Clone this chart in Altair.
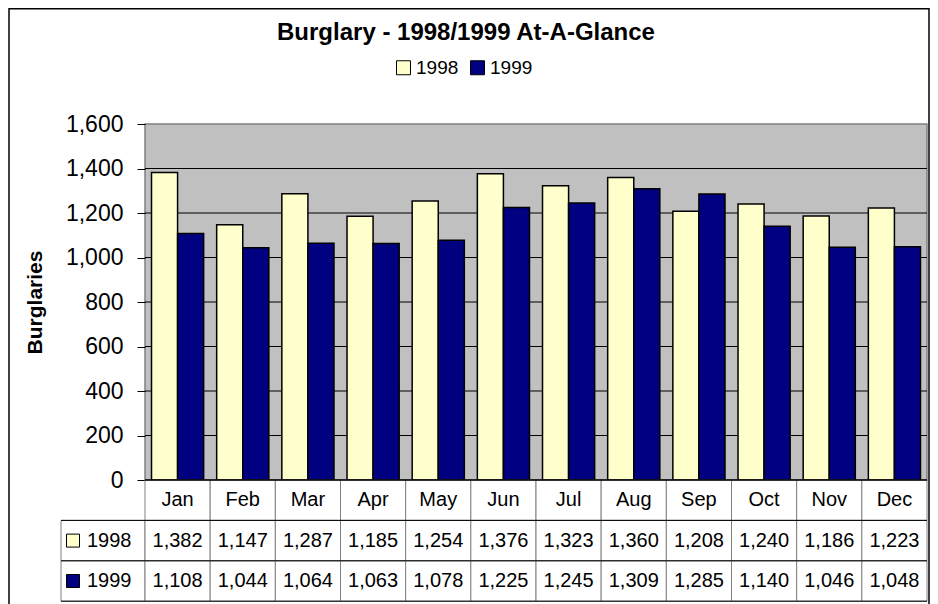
import altair as alt
import pandas as pd

# ---------------- data ----------------
months = ["Jan", "Feb", "Mar", "Apr", "May", "Jun", "Jul", "Aug", "Sep", "Oct", "Nov", "Dec"]
series = ["1998", "1999"]
values_1998 = [1382, 1147, 1287, 1185, 1254, 1376, 1323, 1360, 1208, 1240, 1186, 1223]
values_1999 = [1108, 1044, 1064, 1063, 1078, 1225, 1245, 1309, 1285, 1140, 1046, 1048]
y_ticks = [0, 200, 400, 600, 800, 1000, 1200, 1400, 1600]
title_text = "Burglary - 1998/1999 At-A-Glance"
y_title = "Burglaries"
colors = ["#FFFFCC", "#000080"]

FONT = "Liberation Sans"
W, H = 782, 356
SLOT = W / len(months)
KEY = -84 / SLOT                 # left edge of the data table's key column
XDOM = [0, len(months)]
YDOM = [0, 1600]
UPX = (YDOM[1] - YDOM[0]) / H    # y units per pixel
ROW_H = 40.4 * UPX               # data-table row height in y units

# ---------------- tables ----------------
bar_rows = []
for s_i, (s, vals) in enumerate(zip(series, [values_1998, values_1999])):
    for i, (m, v) in enumerate(zip(months, vals)):
        bar_rows.append({"month": m, "idx": i, "year": s, "value": v, "off": s_i})
bars_df = pd.DataFrame(bar_rows)

grid_df = pd.DataFrame({"v": y_ticks[1:-1], "x0": 0, "x1": len(months)})
base_df = pd.DataFrame({"v": [0], "x0": [0], "x1": [len(months)]})

row_top = {"Month": 0.0, series[0]: -ROW_H, series[1]: -2 * ROW_H}
cells = []
for i, m in enumerate(months):
    cells.append({"row": "Month", "x0": i, "x1": i + 1, "label": m})
for s, vals in zip(series, [values_1998, values_1999]):
    cells.append({"row": s, "x0": KEY, "x1": 0, "label": ""})
    for i, v in enumerate(vals):
        cells.append({"row": s, "x0": i, "x1": i + 1, "label": f"{v:,}"})
cells_df = pd.DataFrame(cells)
cells_df["y0"] = cells_df["row"].map(row_top)
cells_df["y1"] = cells_df["y0"] - ROW_H
cells_df["xc"] = (cells_df["x0"] + cells_df["x1"]) / 2
cells_df["yc"] = (cells_df["y0"] + cells_df["y1"]) / 2
text_df = cells_df[cells_df["label"] != ""]

key_df = pd.DataFrame({"year": series, "x0": [KEY] * 2, "x1": [len(months)] * 2})
key_df["y0"] = key_df["year"].map(row_top)
key_df["yc"] = key_df["y0"] - ROW_H / 2
key_df["xk"] = KEY + 12 / SLOT
bottom_df = pd.DataFrame({"x0": [KEY], "x1": [len(months)], "y": [row_top[series[-1]] - ROW_H]})

one = pd.DataFrame({"a": [0]})

xs = alt.Scale(domain=XDOM, nice=False, zero=False)
ys = alt.Scale(domain=YDOM, nice=False)
cs = alt.Scale(domain=series, range=colors)

yaxis = alt.Axis(values=y_ticks, format=",.0f", title=y_title, grid=False,
                 domain=False, tickColor="black", tickSize=8, tickWidth=1,
                 labelFont=FONT, labelFontSize=23, labelColor="black",
                 labelPadding=14, titleFont=FONT, titleFontSize=21,
                 titleFontWeight="bold", titleColor="black", titlePadding=20)


def X(field):
    return alt.X(field, scale=xs, axis=None)


def Y(field):
    return alt.Y(field, scale=ys, axis=yaxis)


# ---------------- bar panel ----------------
grid = alt.Chart(grid_df).mark_rule(color="black", strokeWidth=1).encode(
    x=X("x0:Q"), x2="x1:Q", y=Y("v:Q"))

bars = alt.Chart(bars_df).transform_calculate(
    bx0="datum.idx + 0.1 + 0.4 * datum.off",
    bx1="datum.idx + 0.5 + 0.4 * datum.off",
).mark_rect(stroke="black", strokeWidth=1.5).encode(
    x=X("bx0:Q"), x2="bx1:Q",
    y=Y("value:Q"), y2=alt.datum(0),
    color=alt.Color("year:N", scale=cs,
                    legend=alt.Legend(title=None, orient="none", legendX=249, legendY=-66,
                                      direction="horizontal", symbolType="square",
                                      symbolSize=196, symbolStrokeColor="black",
                                      symbolStrokeWidth=1, labelFont=FONT,
                                      labelFontSize=19, labelColor="black",
                                      labelOffset=3, columnPadding=9)),
)

title = alt.Chart(one).mark_text(text=title_text, font=FONT, fontSize=24,
                                 fontWeight="bold", color="black",
                                 baseline="middle", align="center").encode(
    x=alt.value(321), y=alt.value(-91))

frame_l = alt.Chart(one).mark_rule(color="black", strokeWidth=1.5).encode(
    x=alt.value(-136), y=alt.value(-116), y2=alt.value(480))
frame_t = alt.Chart(one).mark_rule(color="black", strokeWidth=1.5).encode(
    x=alt.value(-136), x2=alt.value(784), y=alt.value(-115.3))
frame_r = alt.Chart(one).mark_rule(color="black", strokeWidth=1.5).encode(
    x=alt.value(784), y=alt.value(-116), y2=alt.value(480))

# ---------------- data table ----------------
cell_rects = alt.Chart(cells_df).mark_rect(fill="white", stroke="#808080", strokeWidth=1).encode(
    x=X("x0:Q"), x2="x1:Q", y=Y("y0:Q"), y2="y1:Q")
hlines = alt.Chart(key_df).mark_rule(color="black", strokeWidth=1).encode(
    x=X("x0:Q"), x2="x1:Q", y=Y("y0:Q"))
hline_bottom = alt.Chart(bottom_df).mark_rule(color="black", strokeWidth=1).encode(
    x=X("x0:Q"), x2="x1:Q", y=Y("y:Q"))
baseline = alt.Chart(base_df).mark_rule(color="black", strokeWidth=1.5).encode(
    x=X("x0:Q"), x2="x1:Q", y=Y("v:Q"))
cell_text = alt.Chart(text_df).mark_text(font=FONT, fontSize=20, color="black",
                                         baseline="middle").encode(
    x=X("xc:Q"), y=Y("yc:Q"), text="label:N")
key_sq = alt.Chart(key_df).mark_square(size=169, opacity=1, stroke="black",
                                       strokeWidth=1).encode(
    x=X("xk:Q"), y=Y("yc:Q"), color=alt.Color("year:N", scale=cs))
key_text = alt.Chart(key_df).mark_text(font=FONT, fontSize=20, color="black",
                                       align="left", baseline="middle", dx=26).encode(
    x=X("x0:Q"), y=Y("yc:Q"), text="year:N")

chart = alt.layer(
    grid, bars, cell_rects, hlines, hline_bottom, baseline, cell_text, key_sq, key_text,
    title, frame_l, frame_t, frame_r,
).properties(
    width=W, height=H, autosize="none",
    padding={"left": 137, "top": 116, "right": 3, "bottom": 124},
    background="white",
).configure_view(fill="#C0C0C0", stroke="#808080", strokeWidth=1.5)

chart.save("out.html", embed_options={"renderer": "svg", "actions": False})
